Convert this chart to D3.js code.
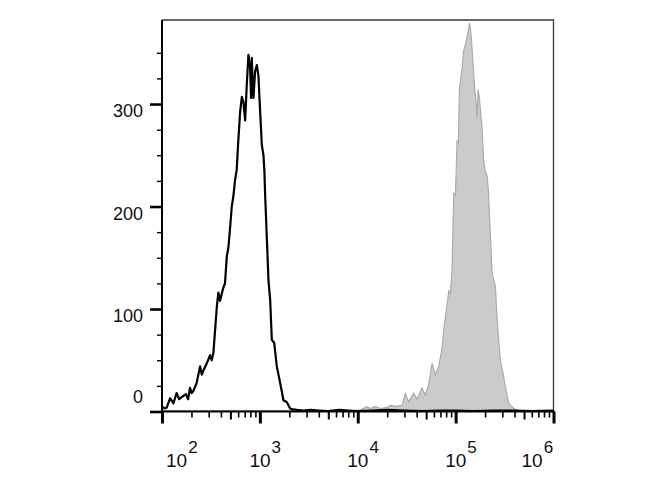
<!DOCTYPE html>
<html><head><meta charset="utf-8">
<script src="https://cdn.jsdelivr.net/npm/d3@7"></script>
<style>html,body{margin:0;padding:0;background:#fff;} svg{display:block;font-family:"Liberation Sans",Arial,sans-serif;}</style>
</head><body><svg id="chart" width="670" height="500"></svg>
<script>
// Unstained control (black outline)
const blackIntensity = [100,106,112,121,131,141,150,159,175,185,193,201,209,226,245,255,265,287,310,322,335,349,363,377,392,408,424,440,459,477,497,516,536,558,580,600,628,654,679,707,735,764,795,813,827,845,860,894,930,966,1007,1047,1088,1113,1132,1195,1224,1274,1325,1400,1490,1610,1742,1887,2037,2200,2388,2800,3300,4000,5000,6500,8000,10000,14000,20000,30000,45000,70000,100000,150000,250000,400000,600000,1000000];
const blackCount = [5,3,4,13,8,18,12,14,17,12,23,18,20,28,44,36,40,47,55,50,57,80,102,116,108,115,121,125,151,160,180,200,210,226,236,262,292,307,302,284,319,348,335,306,345,320,306,332,338,328,292,260,250,234,211,154,128,109,70,67,44,28,11,9,3,2,1.5,1,1.5,1,0.5,1.5,1,0.5,1,1.5,1,0.5,1,1,0.5,1,1,0.5,1];
// Stained sample (grey filled)
const grayIntensity = [100,300,1000,3000,6000,9000,10620,12420,13400,15140,17100,19900,21500,25150,28400,30600,33100,37260,40340,45400,49000,52900,57500,62150,67200,72650,75550,78550,82900,85300,88300,91950,95500,99400,103500,106700,109200,116300,120800,127800,134000,139300,145000,149400,156600,161700,165600,169700,175000,186600,193600,201500,209700,216000,226500,236000,255300,261200,275400,287000,305600,322700,349000,392800,438500,517000,1000000];
const grayCount = [1,1,1,1,1,1,1.5,4.7,3,5,3,4,6,5,6,18,9.5,18,12,23,16,26,47,36,44,62,80,92,109,118,115,138,213,211,264,262,315,335,352,361,371,379,364,345,315,303,286,314,306,276,245,234,230,216,174,135,122,102,70,50,37,24,8,3,1,0.5,0.5];

const yMajorTicks = [0,100,200,300];
const yTickLabels = ["0","100","200","300"];
const yMinorTicks = [25,50,75,125,150,175,225,250,275,325,350];
const xDecades = [100,1000,10000,100000,1000000];
const xExponents = ["2","3","4","5","6"];

const svg = d3.select("#chart");
const x = d3.scaleLog().domain([100,1e6]).range([162,553.5]);
const y = d3.scaleLinear().domain([0,382]).range([411.5,20]);

const gray = grayIntensity.map((v,i)=>({v, c: grayCount[i]}));
const black = blackIntensity.map((v,i)=>({v, c: blackCount[i]}));

// grey filled histogram
svg.append("path").datum(gray)
  .attr("d", d3.area().x(d=>x(d.v)).y0(y(0)).y1(d=>y(d.c)))
  .attr("fill","#cbcbcb").attr("stroke","#a8a8a8").attr("stroke-width",1.1);

// black outline histogram
svg.append("path").datum(black)
  .attr("d", d3.line().x(d=>x(d.v)).y(d=>y(d.c)))
  .attr("fill","none").attr("stroke","#000").attr("stroke-width",2.2).attr("stroke-linejoin","round");

// frame (top and right)
const [x0,x1] = x.range();
const [yb,yt] = y.range();
svg.append("path").attr("d",`M${x0},${yt}H${x1}V${yb}`).attr("fill","none").attr("stroke","#3a3a3a").attr("stroke-width",1.3);

// Y axis
const yAxisMajor = d3.axisLeft(y).tickValues(yMajorTicks).tickSize(12).tickFormat("");
const yAxisMinor = d3.axisLeft(y).tickValues(yMinorTicks).tickSize(5).tickFormat("");
const gy = svg.append("g").attr("transform",`translate(${x0},0)`).call(yAxisMajor);
gy.selectAll(".tick line").attr("stroke","#000").attr("stroke-width",2.6);
gy.select(".domain").remove();
const gym = svg.append("g").attr("transform",`translate(${x0},0)`).call(yAxisMinor);
gym.selectAll(".tick line").attr("stroke","#000").attr("stroke-width",1.4);
gym.select(".domain").remove();
svg.append("line").attr("x1",x0).attr("x2",x0).attr("y1",yt).attr("y2",yb+1).attr("stroke","#000").attr("stroke-width",2);

svg.append("g").selectAll("text").data(yMajorTicks).join("text")
  .attr("x", x0-19).attr("y", d=> d===0 ? y(d)-8.5 : y(d)+13)
  .attr("text-anchor","end").attr("font-size",18).attr("fill","#111")
  .text((d,i)=>yTickLabels[i]);

// X axis
const minorX = [];
xDecades.slice(0,-1).forEach(d=>{ for(let k=2;k<=9;k++) minorX.push(d*k); });
const gx = svg.append("g").attr("transform",`translate(0,${yb})`)
  .call(d3.axisBottom(x).tickValues(xDecades).tickSize(12).tickFormat(""));
gx.selectAll(".tick line").attr("stroke","#000").attr("stroke-width",3);
gx.select(".domain").remove();
const gxm = svg.append("g").attr("transform",`translate(0,${yb})`)
  .call(d3.axisBottom(x).tickValues(minorX).tickSize(6).tickFormat(""));
gxm.selectAll(".tick line").attr("stroke","#000")
  .attr("stroke-width",d=> (Math.round(d/Math.pow(10,Math.floor(Math.log10(d))))===5)?2:1.6)
  .attr("y2",d=> (Math.round(d/Math.pow(10,Math.floor(Math.log10(d))))===5)?8:6);
gxm.select(".domain").remove();
svg.append("line").attr("x1",x0-1).attr("x2",x1+1).attr("y1",yb).attr("y2",yb).attr("stroke","#000").attr("stroke-width",2);

const labelShift = (i)=> i===0 ? 4 : (i===xDecades.length-1 ? -32 : -10.5);
const xl = svg.append("g").selectAll("text").data(xDecades).join("text")
  .attr("x",(d,i)=>x(d)+labelShift(i)).attr("y",467)
  .attr("font-size",19).attr("fill","#111");
xl.append("tspan").text("10");
xl.append("tspan").attr("dx",1).attr("dy",-14).attr("font-size",17).text((d,i)=>xExponents[i]);
</script>
</body></html>
